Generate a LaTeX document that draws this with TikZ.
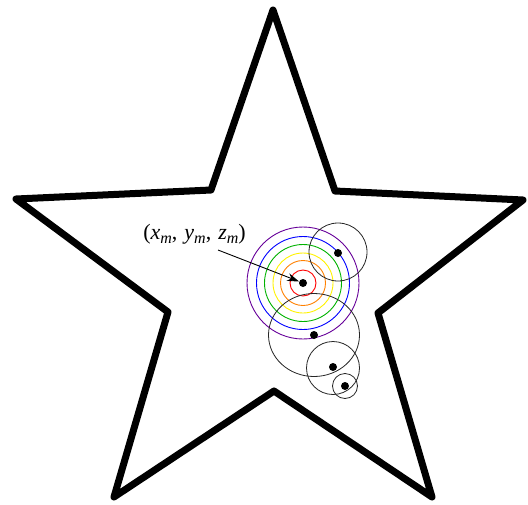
\documentclass[tikz,border=0pt]{standalone}
\usepackage{fontspec}
\setmainfont{Liberation Serif}
\usetikzlibrary{arrows.meta}
\tikzset{
  starline/.style={line width=7pt, line join=round, draw=black},
  ring/.style={line width=0.9pt},
  bcirc/.style={line width=0.8pt, draw=black!85},
  pt/.style={circle, fill=black, inner sep=0pt, minimum size=8pt},
}
\newcommand{\sbm}{\raisebox{-0.22em}{\fontsize{16}{18}\selectfont\itshape m}}
\begin{document}
\begin{tikzpicture}[x=1pt,y=-1pt]
\useasboundingbox (0,0) rectangle (528,504);
% star
\draw[starline] (273,10) -- (335,191) -- (523,200) -- (378,313) -- (432,497)
  -- (274,391) -- (114,497) -- (168,312) -- (16,199) -- (211,190) -- cycle;
% concentric rings
\coordinate (c) at (303,283);
\draw[ring, red] (c) circle (13);
\draw[ring, orange] (c) circle (22.5);
\draw[ring, yellow] (c) circle (30);
\draw[ring, green!70!black] (c) circle (38.5);
\draw[ring, blue] (c) circle (46.5);
\draw[ring, violet!80!blue] (c) circle (56);
% black circles
\draw[bcirc] (338,252) circle (29);
\draw[bcirc] (314,335) ellipse (45.5 and 41.5);
\draw[bcirc] (333,368) circle (26.5);
\draw[bcirc] (345,386) circle (12.5);
% dots
\node[pt] (m) at (c) {};
\node[pt] (d1) at (338,253) {};
\node[pt] (d2) at (314,335) {};
\node[pt] (d3) at (333,367) {};
\node[pt] (d4) at (345,386) {};
% label
\node[font=\fontsize{22}{26}\selectfont, anchor=base, inner sep=0pt] (lab) at (194.5,239)
  {(\textit{x}\sbm,\hspace{7pt}\textit{y}\sbm,\hspace{7pt}\textit{z}\sbm)};
\coordinate (s) at (218,250);
\draw[line width=0.9pt, -{Stealth[length=12pt,width=8pt]}] (s) -- (m);
\end{tikzpicture}
\end{document}
